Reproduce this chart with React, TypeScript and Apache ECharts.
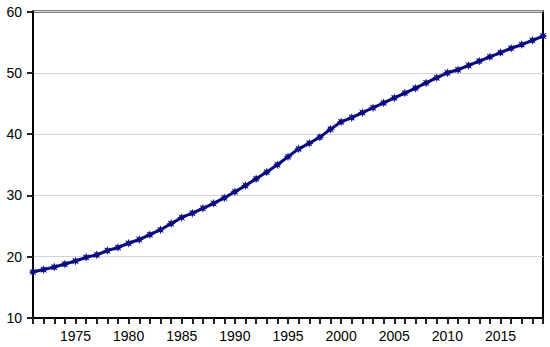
import React, { useEffect, useRef } from "react";
import * as echarts from "echarts";

const years: string[] = [];
for (let y = 1971; y <= 2019; y++) years.push(String(y));

const values: number[] = [
  17.5, 17.9, 18.3, 18.8, 19.3, 19.9, 20.3, 21.0, 21.5, 22.2,
  22.8, 23.6, 24.4, 25.4, 26.4, 27.1, 27.9, 28.7, 29.6, 30.6,
  31.6, 32.7, 33.8, 35.0, 36.3, 37.6, 38.5, 39.5, 40.8, 42.0,
  42.7, 43.5, 44.3, 45.1, 45.9, 46.7, 47.5, 48.35, 49.2, 50.0,
  50.5, 51.2, 51.9, 52.6, 53.3, 54.0, 54.6, 55.3, 56.0,
];

const yTicks = [10, 20, 30, 40, 50, 60];

function starPath(): string {
  const pts: string[] = [];
  const n = 8;
  for (let i = 0; i < n * 2; i++) {
    const r = i % 2 === 0 ? 10 : 5;
    const a = (Math.PI * i) / n - Math.PI / 2;
    const x = 10 + r * Math.cos(a);
    const y = 10 + r * Math.sin(a);
    pts.push((i === 0 ? "M" : "L") + x.toFixed(2) + " " + y.toFixed(2));
  }
  return "path://" + pts.join(" ") + " Z";
}

export default function App() {
  const ref = useRef<HTMLDivElement>(null);
  useEffect(() => {
    if (!ref.current) return;
    const chart = echarts.init(ref.current, undefined, { renderer: "svg" });
    chart.setOption({
      animation: false,
      grid: { left: 33, right: 7, top: 11.5, bottom: 29, show: true, borderColor: "#000", borderWidth: 2 },
      xAxis: {
        type: "category",
        data: years,
        boundaryGap: false,
        axisLine: { lineStyle: { color: "#000", width: 2 } },
        axisTick: { show: true, interval: 0, length: 6, lineStyle: { color: "#222", width: 2 } },
        axisLabel: {
          interval: (_i: number, v: string) => Number(v) % 5 === 0,
          fontSize: 14,
          margin: 11,
          color: "#000",
        },
      },
      yAxis: {
        type: "value",
        min: yTicks[0],
        max: yTicks[yTicks.length - 1],
        interval: 10,
        axisLine: { show: true, lineStyle: { color: "#000", width: 2 } },
        axisTick: { show: true, length: 6, lineStyle: { color: "#222", width: 2 } },
        axisLabel: { fontSize: 14, margin: 11, color: "#000" },
        splitLine: { lineStyle: { color: "#d4d4d4" } },
      },
      series: [
        {
          type: "line",
          data: values,
          symbol: starPath(),
          symbolSize: 9,
          showAllSymbol: true,
          lineStyle: { color: "#0a0a80", width: 3 },
          itemStyle: { color: "#0a0a80", borderWidth: 0 },
        },
      ],
    });
    return () => chart.dispose();
  }, []);
  return <div ref={ref} style={{ width: 550, height: 347, position: "absolute", left: 0, top: 0 }} />;
}
